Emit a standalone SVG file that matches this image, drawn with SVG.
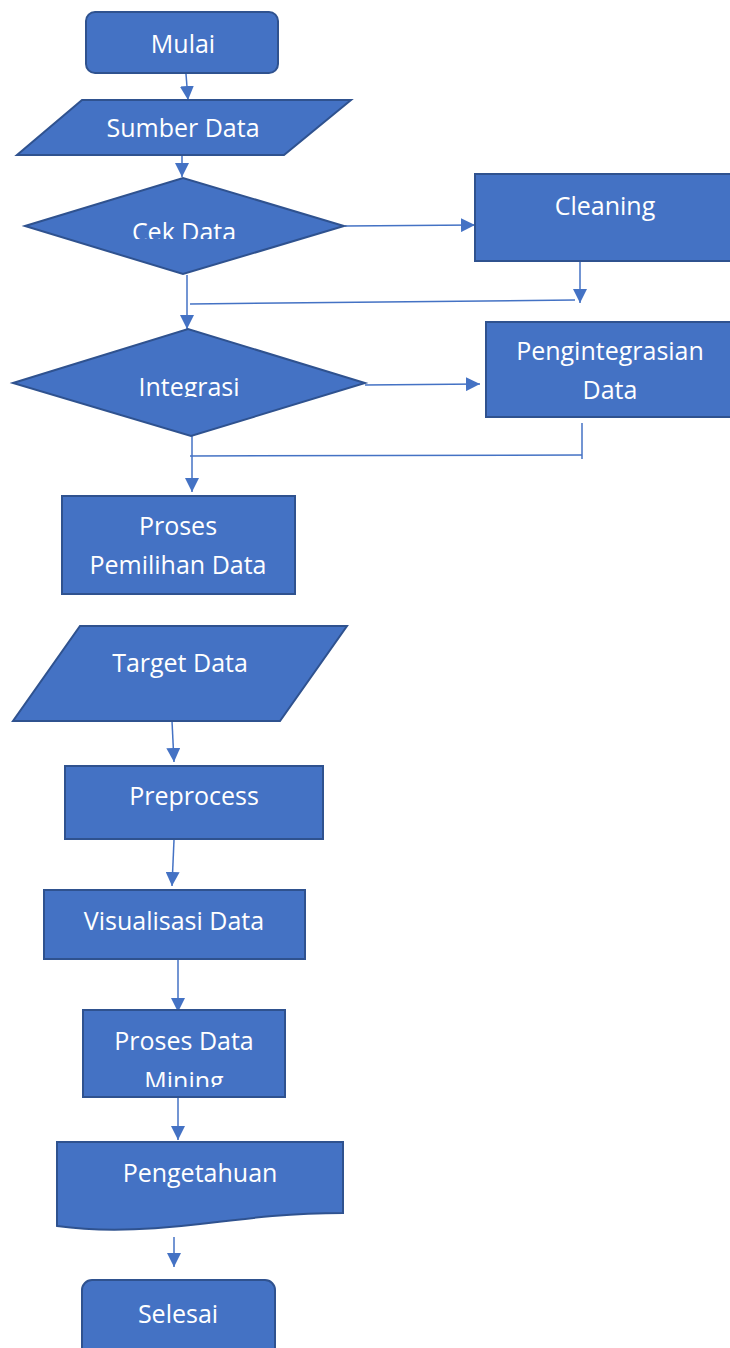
<svg xmlns="http://www.w3.org/2000/svg" width="730" height="1348" viewBox="0 0 730 1348">
<defs>
<style>
.n{fill:#4472C4;stroke:#2F528F;stroke-width:2}
.t{font-family:"Open Sans","Liberation Sans",sans-serif;font-size:25px;fill:#FFFFFF;text-anchor:middle}
.c{fill:none;stroke:#4472C4;stroke-width:1.5}
</style>
<marker id="ah" viewBox="0 0 10 10" refX="10" refY="5" markerWidth="14" markerHeight="14" markerUnits="userSpaceOnUse" orient="auto">
<path d="M0,0 L10,5 L0,10 z" fill="#4472C4"/>
</marker>
<clipPath id="clipCek"><rect x="0" y="0" width="730" height="239"/></clipPath>
<clipPath id="clipInt"><rect x="0" y="0" width="730" height="397"/></clipPath>
<clipPath id="clipMin"><rect x="0" y="0" width="730" height="1087"/></clipPath>
</defs>
<rect width="730" height="1348" fill="#FFFFFF"/>

<g id="connectors">
<path class="c" d="M186,74 L188,100" marker-end="url(#ah)"/>
<path class="c" d="M182,156 L182,177" marker-end="url(#ah)"/>
<path class="c" d="M345,226 L475,225" marker-end="url(#ah)"/>
<path class="c" d="M580,262 L580,303" marker-end="url(#ah)"/>
<path class="c" d="M190,304 L575,300"/>
<path class="c" d="M187,275 L187,329" marker-end="url(#ah)"/>
<path class="c" d="M365,385 L480,384" marker-end="url(#ah)"/>
<path class="c" d="M582,423 L582,459"/>
<path class="c" d="M190,456 L582,455"/>
<path class="c" d="M192,436 L192,492" marker-end="url(#ah)"/>
<path class="c" d="M172,721 L174,762" marker-end="url(#ah)"/>
<path class="c" d="M174,840 L172,886" marker-end="url(#ah)"/>
<path class="c" d="M178,960 L178,1012" marker-end="url(#ah)"/>
<path class="c" d="M178,1098 L178,1140" marker-end="url(#ah)"/>
<path class="c" d="M174,1237 L174,1267" marker-end="url(#ah)"/>
</g>

<g id="mulai">
<rect class="n" x="86" y="12" width="192" height="61" rx="9"/>
<text class="t" x="183" y="53">Mulai</text>
</g>

<g id="sumber-data">
<polygon class="n" points="82,100 351,100 284,155 17,155"/>
<text class="t" x="183" y="137">Sumber Data</text>
</g>

<g id="cek-data">
<polygon class="n" points="25,226 183,178 344,226 183,274"/>
<text class="t" x="184" y="241" clip-path="url(#clipCek)">Cek Data</text>
</g>

<g id="cleaning">
<rect class="n" x="475" y="174" width="260" height="87"/>
<text class="t" x="605" y="215">Cleaning</text>
</g>

<g id="integrasi">
<polygon class="n" points="13,383 188,329 365,383 191,436"/>
<text class="t" x="189" y="396" clip-path="url(#clipInt)">Integrasi</text>
</g>

<g id="pengintegrasian-data">
<rect class="n" x="486" y="322" width="250" height="95"/>
<text class="t" x="610" y="360">Pengintegrasian</text>
<text class="t" x="610" y="399">Data</text>
</g>

<g id="proses-pemilihan-data">
<rect class="n" x="62" y="496" width="233" height="98"/>
<text class="t" x="178" y="535">Proses</text>
<text class="t" x="178" y="574">Pemilihan Data</text>
</g>

<g id="target-data">
<polygon class="n" points="80,626 347,626 280,721 13,721"/>
<text class="t" x="180" y="672">Target Data</text>
</g>

<g id="preprocess">
<rect class="n" x="65" y="766" width="258" height="73"/>
<text class="t" x="194" y="805">Preprocess</text>
</g>

<g id="visualisasi-data">
<rect class="n" x="44" y="890" width="261" height="69"/>
<text class="t" x="174" y="930">Visualisasi Data</text>
</g>

<g id="proses-data-mining">
<rect class="n" x="83" y="1010" width="202" height="87"/>
<text class="t" x="184" y="1050">Proses Data</text>
<text class="t" x="184" y="1090" clip-path="url(#clipMin)">Mining</text>
</g>

<g id="pengetahuan">
<path class="n" d="M57,1142 H343 V1213 C290,1213 250,1218 200,1224 C150,1230 100,1232 57,1226 Z"/>
<text class="t" x="200" y="1182">Pengetahuan</text>
</g>

<g id="selesai">
<rect class="n" x="82" y="1280" width="193" height="90" rx="10"/>
<text class="t" x="178" y="1323">Selesai</text>
</g>
</svg>
